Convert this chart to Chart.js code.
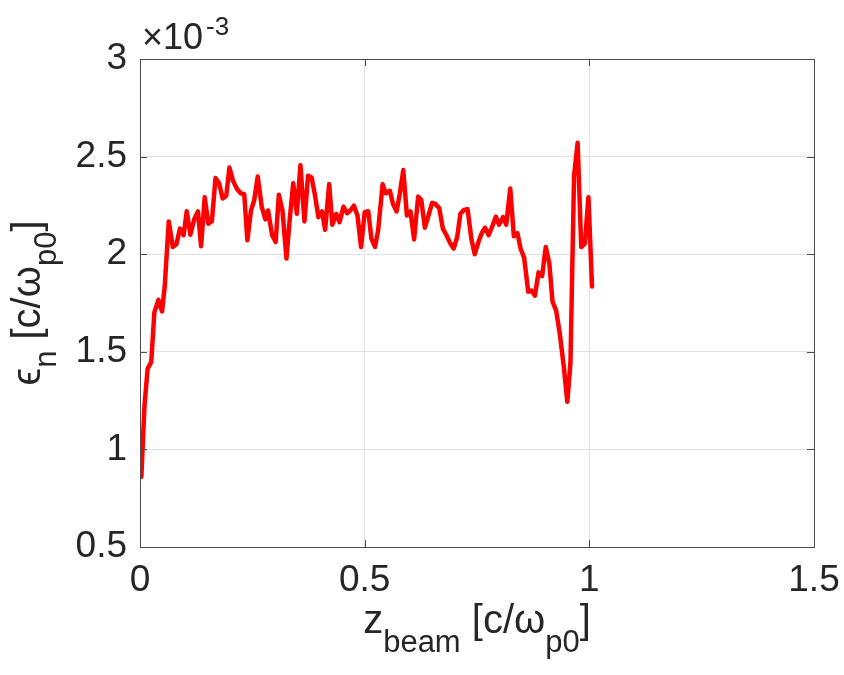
<!DOCTYPE html>
<html>
<head>
<meta charset="utf-8">
<script src="https://cdn.jsdelivr.net/npm/chart.js@4"></script>
<style>
html,body{margin:0;padding:0;background:#fff;}
canvas{display:block;}
</style>
</head>
<body>
<canvas id="c" width="844" height="675"></canvas>
<script>
// z_beam [c/omega_p0]
const zBeam = [0.003,0.010,0.017,0.025,0.032,0.041,0.049,0.055,0.064,0.073,0.081,0.089,0.097,0.104,0.112,0.121,0.129,0.136,0.144,0.152,0.160,0.168,0.176,0.184,0.192,0.199,0.207,0.216,0.224,0.232,0.239,0.247,0.254,0.262,0.271,0.279,0.285,0.294,0.302,0.309,0.317,0.326,0.333,0.341,0.349,0.357,0.366,0.374,0.382,0.389,0.397,0.405,0.412,0.421,0.428,0.437,0.444,0.453,0.461,0.468,0.476,0.484,0.492,0.500,0.508,0.515,0.523,0.530,0.540,0.547,0.556,0.563,0.571,0.578,0.586,0.594,0.602,0.610,0.619,0.626,0.634,0.642,0.650,0.657,0.666,0.674,0.682,0.690,0.698,0.706,0.713,0.721,0.729,0.738,0.745,0.754,0.761,0.768,0.776,0.784,0.792,0.799,0.808,0.815,0.824,0.832,0.840,0.847,0.855,0.864,0.871,0.879,0.887,0.895,0.903,0.911,0.918,0.926,0.934,0.943,0.951,0.958,0.966,0.974,0.982,0.990,0.998,1.006];
// epsilon_n [c/omega_p0], in units of 1e-3
const epsN = [0.859,1.224,1.414,1.447,1.703,1.766,1.707,1.834,2.168,2.037,2.051,2.131,2.097,2.220,2.100,2.181,2.219,2.041,2.292,2.156,2.169,2.390,2.363,2.286,2.300,2.444,2.376,2.334,2.312,2.308,2.071,2.224,2.275,2.398,2.241,2.178,2.224,2.097,2.063,2.305,2.224,1.978,2.173,2.364,2.207,2.456,2.168,2.402,2.393,2.308,2.190,2.219,2.125,2.359,2.151,2.207,2.164,2.244,2.210,2.224,2.249,2.198,2.037,2.215,2.220,2.080,2.037,2.122,2.359,2.312,2.325,2.258,2.219,2.308,2.431,2.198,2.219,2.076,2.295,2.278,2.136,2.198,2.263,2.258,2.236,2.131,2.097,2.058,2.029,2.088,2.207,2.227,2.231,2.071,2.000,2.068,2.110,2.136,2.097,2.142,2.193,2.151,2.190,2.151,2.337,2.092,2.108,2.029,1.981,1.808,1.814,1.788,1.907,1.888,2.037,1.953,1.758,1.712,1.597,1.427,1.244,1.444,2.402,2.571,2.037,2.054,2.292,1.834];
const xTicks = [0, 0.5, 1, 1.5];
const yTicks = [0.5, 1, 1.5, 2, 2.5, 3];
const xTickLabels = ['0', '0.5', '1', '1.5'];
const yTickLabels = ['0.5', '1', '1.5', '2', '2.5', '3'];
const exponentText = ['\u00d710', '-3'];

const points = zBeam.map((z, i) => ({x: z, y: epsN[i]}));
const TXT = '#262626';
const FONT = '"Liberation Sans", Arial, Helvetica, sans-serif';

function drawRich(ctx, parts, mainSize, subSize, subShift) {
  let w = 0;
  const widths = parts.map(p => {
    ctx.font = (p[1] ? subSize : mainSize) + 'px ' + FONT;
    const m = ctx.measureText(p[0]).width;
    w += m;
    return m;
  });
  let x = -w / 2;
  parts.forEach((p, i) => {
    ctx.font = (p[1] ? subSize : mainSize) + 'px ' + FONT;
    ctx.fillText(p[0], x, p[1] ? subShift : 0);
    x += widths[i];
  });
}

const decor = {
  id: 'decor',
  afterDraw(chart) {
    const ctx = chart.ctx;
    const a = chart.chartArea;
    const xs = chart.scales.x, ys = chart.scales.y;
    ctx.save();
    ctx.strokeStyle = '#4d4d4d';
    ctx.lineWidth = 1;
    ctx.strokeRect(Math.round(a.left) + 0.5, Math.round(a.top) + 0.5, Math.round(a.right - a.left), Math.round(a.bottom - a.top));
    const tl = 7;
    ctx.beginPath();
    xTicks.forEach(v => {
      const px = Math.round(xs.getPixelForValue(v)) + 0.5;
      ctx.moveTo(px, a.bottom); ctx.lineTo(px, a.bottom - tl);
      ctx.moveTo(px, a.top); ctx.lineTo(px, a.top + tl);
    });
    yTicks.forEach(v => {
      const py = Math.round(ys.getPixelForValue(v)) + 0.5;
      ctx.moveTo(a.left, py); ctx.lineTo(a.left + tl, py);
      ctx.moveTo(a.right, py); ctx.lineTo(a.right - tl, py);
    });
    ctx.stroke();

    ctx.fillStyle = TXT;
    ctx.textBaseline = 'alphabetic';
    ctx.textAlign = 'left';
    ctx.save();
    ctx.translate((a.left + a.right) / 2, 633);
    drawRich(ctx, [['z', false], ['beam', true], [' [c/\u03c9', false], ['p0', true], [']', false]], 40, 31, 19);
    ctx.restore();
    ctx.save();
    ctx.translate(40, (a.top + a.bottom) / 2);
    ctx.rotate(-Math.PI / 2);
    drawRich(ctx, [['\u03f5', false], ['n', true], [' [c/\u03c9', false], ['p0', true], [']', false]], 40, 31, 16);
    ctx.restore();
    ctx.font = '36px ' + FONT;
    ctx.fillText(exponentText[0], 142, 49);
    const w10 = ctx.measureText(exponentText[0]).width;
    ctx.font = '26px ' + FONT;
    ctx.fillText(exponentText[1], 142 + w10 + 3, 35);
    ctx.restore();
  }
};

new Chart(document.getElementById('c'), {
  type: 'line',
  data: {
    datasets: [{
      data: points,
      borderColor: '#ff0000',
      borderWidth: 4.5,
      pointRadius: 0,
      tension: 0,
      fill: false,
      borderJoinStyle: 'round',
      borderCapStyle: 'round'
    }]
  },
  options: {
    responsive: false,
    animation: false,
    events: [],
    layout: { padding: { top: 59, right: 30, left: 0, bottom: 0 } },
    plugins: { legend: { display: false }, tooltip: { enabled: false } },
    scales: {
      x: {
        type: 'linear', min: 0, max: 1.5,
        afterBuildTicks(s) { s.ticks = xTicks.map(v => ({value: v})); },
        afterFit(s) { s.height = 128; s.paddingLeft = 0; s.paddingRight = 0; },
        ticks: { font: { size: 37, family: FONT }, color: TXT, padding: 12, maxRotation: 0,
                 callback: (v) => xTickLabels[xTicks.indexOf(v)] },
        grid: { color: '#e3e3e3', drawTicks: false },
        border: { display: false }
      },
      y: {
        type: 'linear', min: 0.5, max: 3,
        afterBuildTicks(s) { s.ticks = yTicks.map(v => ({value: v})); },
        afterFit(s) { s.width = 140; s.paddingTop = 0; s.paddingBottom = 0; },
        ticks: { font: { size: 37, family: FONT }, color: TXT, padding: 13,
                 callback: (v) => yTickLabels[yTicks.indexOf(v)] },
        grid: { color: '#e3e3e3', drawTicks: false },
        border: { display: false }
      }
    }
  },
  plugins: [decor]
});
</script>
</body>
</html>
